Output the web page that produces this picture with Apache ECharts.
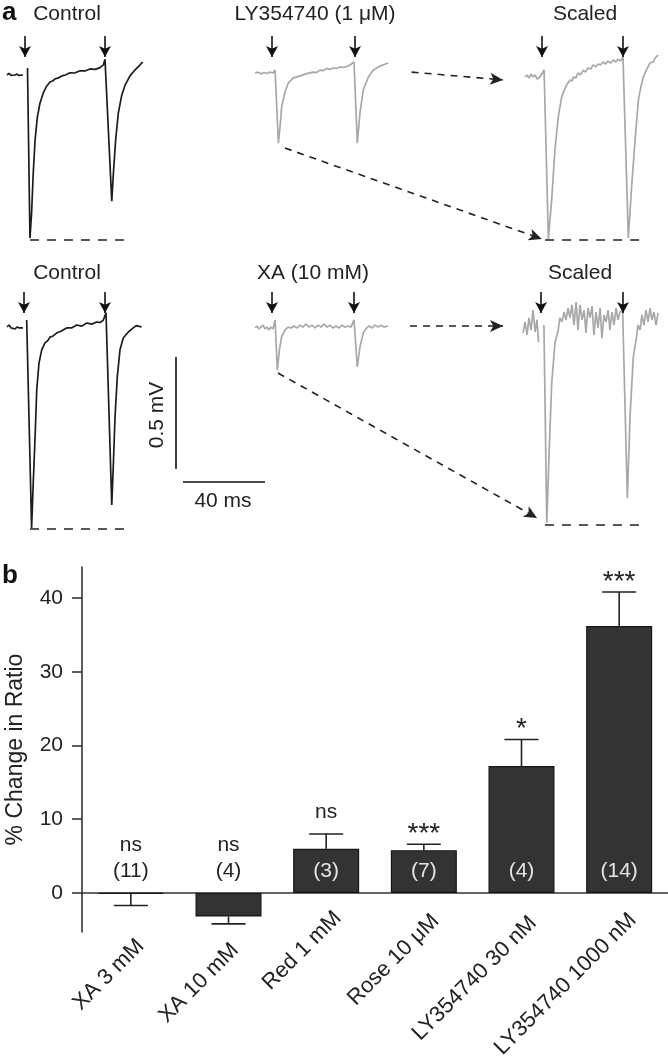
<!DOCTYPE html>
<html><head><meta charset="utf-8">
<script src="https://cdn.jsdelivr.net/npm/echarts@6/dist/echarts.min.js"></script>
<style>html,body{margin:0;padding:0;background:#fff}#c{width:668px;height:1058px}</style>
</head><body><div id="c"></div>
<script>
const FONT = 'Liberation Sans, Arial, Helvetica, sans-serif';

// ---------- Panel a: traces, [time ms, voltage mV] relative to trace start / baseline ----------
const ctrl1 = [
[0,0],[1.0,0.007],[2.0,-0.002],[2.9,0.004],[3.9,0],[4.9,0.004],[5.9,-0.002],[6.8,0.002],[7.8,0],
'-',
[10.0,0.031],[11.2,-0.728],[12.0,-0.616],[12.8,-0.438],[13.7,-0.290],[14.8,-0.188],[16.1,-0.125],[17.7,-0.080],[19.4,-0.049],[21.0,-0.031],[22.2,-0.027],[23.4,-0.018],[25.0,-0.013],[26.7,-0.004],[28.5,0.000],[30.7,0.010],[33.0,0.009],[35.6,0.019],[38.0,0.018],[40.5,0.027],[43.0,0.025],[45.4,0.033],[47.0,0.045],[47.8,0.070],
[51.1,-0.563],[51.9,-0.438],[53.0,-0.290],[54.3,-0.170],[56.0,-0.089],[57.6,-0.045],[60.0,-0.004],[62.4,0.022],[64.9,0.045],[66.2,0.058]
];
const ly1 = [
[0,0],[1.5,0.004],[2.9,-0.004],[4.4,0.002],[5.9,-0.002],[7.3,0.004],[8.8,0],
[9.8,0.013],[11.4,-0.313],[12.2,-0.241],[13.0,-0.152],[14.6,-0.085],[16.2,-0.045],[18.7,-0.022],[22.0,-0.013],[24.9,-0.004],[28.4,0.004],[30.0,0.002],[31.7,0.013],[33.3,0.011],[35.0,0.020],[36.5,0.016],[38.0,0.022],[39.8,0.020],[41.5,0.027],[43.0,0.025],[43.9,0.031],[45.0,0.029],[46.3,0.036],[48.3,0.049],
[49.9,-0.313],[51.2,-0.179],[52.8,-0.076],[55.3,-0.018],[57.7,0.013],[61.0,0.031],[65.0,0.045]
];
const scaled1 = [
[0,0],[1.0,0.009],[2.0,-0.004],[2.9,0.013],[3.9,0],[4.9,0.009],[5.9,-0.009],[7.3,0],
[9.3,0.031],[11.4,-0.723],[13.0,-0.549],[14.6,-0.326],[16.2,-0.179],[17.9,-0.089],[19.0,-0.062],[20.3,-0.036],[22.0,-0.013],[23.0,-0.018],[23.6,0],[24.8,-0.004],[25.9,0.018],[27.0,0.009],[28.4,0.031],[29.5,0.022],[30.7,0.040],[32.0,0.036],[33.3,0.054],[34.5,0.045],[35.6,0.058],[36.8,0.054],[38.2,0.067],[39.3,0.058],[40.5,0.071],[41.8,0.062],[43.1,0.076],[44.3,0.067],[45.4,0.080],[46.6,0.071],[47.8,0.089],
[50.4,-0.719],[52.0,-0.491],[53.7,-0.281],[55.3,-0.103],[56.5,-0.045],[57.7,0],[59.2,0.031],[61.0,0.063],[62.5,0.067],[63.5,0.085],[65.0,0.098]
];
const ctrl2 = [
[0,0],[1,0.009],[2,-0.004],[2.9,0.004],[3.9,-0.009],[4.9,0],[5.9,-0.004],[6.8,0],[7.8,-0.004],
'-',
[9.6,0.031],[12.0,-0.897],[12.8,-0.696],[13.7,-0.491],[14.5,-0.281],[15.6,-0.161],[16.9,-0.103],[18.5,-0.071],[19.8,-0.062],[21.0,-0.045],[22.5,-0.040],[24.2,-0.027],[26.5,-0.018],[29.1,-0.004],[31.5,-0.004],[34.0,0.009],[36.5,0.004],[38.9,0.018],[41.3,0.013],[43.8,0.022],[45.5,0.020],[47.0,0.031],[48.3,0.063],
[51.1,-0.795],[51.9,-0.607],[52.7,-0.402],[53.8,-0.223],[55.1,-0.103],[56.7,-0.049],[59.2,-0.022],[61.6,-0.004],[63.0,0.006],[64.0,0.004],[65.7,0]
];
const xa2 = [
[0,0],[1,0.009],[2,-0.004],[2.9,0.004],[3.9,0.013],[4.9,-0.004],[5.9,0.004],[6.8,-0.009],[7.8,0.004],[8.8,-0.004],
[9.8,0.036],[10.9,-0.188],[11.9,-0.098],[13.0,-0.040],[14.6,-0.009],[16.1,0.004],[17.6,0],[19.0,0.009],[20.5,0],[22.0,0.013],[23.4,0.004],[24.9,0.018],[26.3,0.004],[27.8,0.013],[29.3,0],[30.7,0.013],[32.2,0.004],[33.7,0.018],[35.1,0.004],[36.6,0.013],[38.0,0],[39.5,0.009],[41.0,0],[42.4,0.013],[43.9,0.004],[45.4,0.009],[46.8,0.004],
[48.3,0.036],[49.9,-0.174],[51.2,-0.085],[52.8,-0.022],[54.1,-0.004],[55.6,0.009],[57.1,0],[58.5,0.013],[60.0,0.004],[61.5,0.013],[62.9,0.004],[64.9,0.009]
];
const scaled2 = [
[0,-0.013],[1.0,0.036],[2.0,-0.022],[2.9,0.054],[3.9,0],[4.9,0.089],[5.9,-0.009],[6.8,0.045],[7.6,-0.054],
'-',
[10.2,0.022],[11.6,-0.862],[12.8,-0.536],[14.0,-0.237],[15.6,-0.058],[17.2,0],[18.0,0.054],[19.0,0.036],[20.0,0.080],[21.0,0.045],[22.0,0.098],[22.9,0.054],[23.9,0.112],[24.9,0.022],[25.9,0.125],[26.8,0],[27.8,0.112],[28.8,0.045],[29.8,0.089],[30.7,-0.013],[31.7,0.098],[32.7,0.054],[33.7,0.107],[34.6,-0.022],[35.6,0.080],[36.6,0.009],[37.6,0.098],[38.5,-0.036],[39.5,0.067],[40.5,0.036],[41.5,0.089],[42.4,0],[43.4,0.080],[44.4,0.022],[45.4,0.098],[46.3,0.045],[47.3,0.080],
[48.6,0.089],[50.9,-0.750],[52.2,-0.388],[53.8,-0.121],[55.4,-0.031],[56.1,0.022],[57.1,0],[58.0,0.067],[59.0,0.022],[60.0,0.089],[61.0,0.036],[62.0,0.098],[62.9,0.045],[63.9,0.080],[64.9,0.022],[65.9,0.076]
];
const traceTitles = ['Control', 'LY354740 (1 \u03bcM)', 'Scaled', 'Control', 'XA (10 mM)', 'Scaled'];
const scaleBarMv = 0.5;
const scaleBarMs = 40;

// ---------- Panel b: bar chart ----------
const categories = ['XA 3 mM', 'XA 10 mM', 'Red 1 mM', 'Rose 10 \u03bcM', 'LY354740 30 nM', 'LY354740 1000 nM'];
const means = [-0.15, -3.2, 6.0, 5.8, 17.2, 36.2];
const sems = [1.55, 1.0, 2.0, 0.8, 3.6, 4.6];
const nLabels = ['(11)', '(4)', '(3)', '(7)', '(4)', '(14)'];
const sigLabels = ['ns', 'ns', 'ns', '***', '*', '***'];
const yTicks = [0, 10, 20, 30, 40];

// ---------- layout ----------
const PX_MS = 2.05, PX_MV = 224, T_MAX = 150;
const traces = [ctrl1, ly1, scaled1, ctrl2, xa2, scaled2];
const origins = [[7,75],[255,73],[525,77],[7,327],[255,328],[523,330]];
const colors = ['#1c1c1c','#a8a8a8','#a8a8a8','#1c1c1c','#a8a8a8','#a8a8a8'];
const stimArrows = [
  {t:[8.8,47.8], v:[0.174,0.080]}, {t:[8.3,48.8], v:[0.165,0.071]}, {t:[8.3,47.8], v:[0.183,0.089]},
  {t:[8.3,47.8], v:[0.156,0.063]}, {t:[8.3,48.3], v:[0.161,0.067]}, {t:[8.8,48.8], v:[0.170,0.076]}
];
const troughLines = {0:[11.2,57.6,-0.737], 2:[9.8,58.5,-0.728], 3:[11.2,59.0,-0.902], 5:[10.7,59.5,-0.871]};
const linkArrows = {
  1: [[[76.4,0.004],[121.0,-0.031]], [[14.6,-0.335],[139.9,-0.741]]],
  4: [[[75.6,0.009],[121.0,0.009]], [[11.2,-0.201],[137.6,-0.848]]]
};
// pixel offset of each rotated category label's top-right corner from (category centre, zero line)
const xLabelOffsets = [[2,42],[-1,46],[4,14],[4,17],[4,19],[6,16]];

const grids = [], xAxes = [], yAxes = [], series = [];
traces.forEach((tr, i) => {
  const [x0, y0] = origins[i];
  grids.push({left: x0, top: y0 - 0.2 * PX_MV, width: T_MAX * PX_MS, height: 1.2 * PX_MV, outerBoundsMode:'none', containLabel:false});
  xAxes.push({type:'value', gridIndex:i, min:0, max:T_MAX, show:false});
  yAxes.push({type:'value', gridIndex:i, min:-1, max:0.2, show:false});
  const ml = [];
  const sa = stimArrows[i];
  sa.t.forEach(t => ml.push([
    {coord:[t, sa.v[0]], symbol:'none', lineStyle:{color:'#111', width:1.6, type:'solid'}},
    {coord:[t, sa.v[1]], symbol:'arrow', symbolSize:[9,11], lineStyle:{color:'#111', width:1.6, type:'solid'}}
  ]));
  if (troughLines[i]) {
    const [a, b, v] = troughLines[i];
    ml.push([
      {coord:[a, v], symbol:'none', lineStyle:{color:'#222', width:1.6, type:[9,8]}},
      {coord:[b, v], symbol:'none', lineStyle:{color:'#222', width:1.6, type:[9,8]}}
    ]);
  }
  if (linkArrows[i]) {
    linkArrows[i].forEach(seg => ml.push([
      {coord:seg[0], symbol:'none', lineStyle:{color:'#222', width:1.6, type:[7,6]}},
      {coord:seg[1], symbol:'arrow', symbolSize:[9,13], lineStyle:{color:'#222', width:1.6, type:[7,6]}}
    ]));
  }
  series.push({
    type:'line', xAxisIndex:i, yAxisIndex:i, data: tr, showSymbol:false, symbol:'none',
    clip:false, connectNulls:false, silent:true,
    lineStyle:{color: colors[i], width:1.7}, itemStyle:{color: colors[i]},
    markLine:{silent:true, symbol:['none','none'], label:{show:false}, data: ml, animation:false}
  });
});

// scale bar grid (index 6): origin at bottom of vertical bar
grids.push({left:176, top:469 - 0.6 * PX_MV, width: 50 * PX_MS, height: 0.7 * PX_MV, outerBoundsMode:'none', containLabel:false});
xAxes.push({type:'value', gridIndex:6, min:0, max:50, show:false});
yAxes.push({type:'value', gridIndex:6, min:-0.1, max:0.6, show:false});
const hBarGapMs = 3.4, hBarOffsetMv = -0.058;
series.push({type:'line', xAxisIndex:6, yAxisIndex:6, data:[[0,0],[0,scaleBarMv]], showSymbol:false, clip:false, silent:true, lineStyle:{color:'#111', width:1.6}});
series.push({type:'line', xAxisIndex:6, yAxisIndex:6, data:[[hBarGapMs,hBarOffsetMv],[hBarGapMs+scaleBarMs,hBarOffsetMv]], showSymbol:false, clip:false, silent:true, lineStyle:{color:'#111', width:1.6}});

// bar chart grid (index 7)
grids.push({left:82, right:0, top:567, height:365, outerBoundsMode:'none', containLabel:false});
xAxes.push({
  type:'category', gridIndex:7, data: categories,
  axisLine:{onZero:true, lineStyle:{color:'#333', width:1.6}},
  axisTick:{show:false},
  axisLabel:{show:false}
});
yAxes.push({
  type:'value', gridIndex:7, min:-5.3, max:44.2,
  axisLine:{show:true, lineStyle:{color:'#333', width:1.6}},
  axisTick:{show:true, length:10, lineStyle:{color:'#333', width:1.6}, customValues: yTicks},
  axisLabel:{customValues: yTicks, fontSize:21, color:'#222', margin:19, fontFamily:FONT},
  splitLine:{show:false},
  name:'% Change in Ratio', nameLocation:'middle', nameGap:55,
  nameTextStyle:{fontSize:23, color:'#222', fontFamily:FONT}
});
series.push({
  type:'bar', xAxisIndex:7, yAxisIndex:7, data: means, barWidth:66, silent:true,
  itemStyle:{color:'#333333', borderColor:'#151515', borderWidth:1.2}
});
series.push({
  type:'custom', xAxisIndex:7, yAxisIndex:7, silent:true, clip:false, z:5,
  data: means.map((m, i) => [i, m, sems[i]]),
  renderItem(params, api) {
    const i = api.value(0), m = api.value(1), e = api.value(2);
    const p0 = api.coord([i, m]);
    const p1 = api.coord([i, m < 0 ? m - e : m + e]);
    const style = {stroke:'#222', lineWidth:1.6};
    return {type:'group', children:[
      {type:'line', shape:{x1:p0[0], y1:p0[1], x2:p1[0], y2:p1[1]}, style},
      {type:'line', shape:{x1:p1[0]-17, y1:p1[1], x2:p1[0]+17, y2:p1[1]}, style}
    ]};
  }
});
series.push({
  type:'custom', xAxisIndex:7, yAxisIndex:7, silent:true, clip:false, z:6,
  data: means.map((m, i) => [i, m, sems[i]]),
  renderItem(params, api) {
    const idx = params.dataIndex;
    const i = api.value(0), m = api.value(1), e = api.value(2);
    const zero = api.coord([i, 0]);
    const neg = m <= 0;
    const top = neg ? zero : api.coord([i, m + e]);
    const sig = sigLabels[idx];
    const star = sig.indexOf('*') >= 0;
    const sigY = neg ? zero[1] - 48 : top[1] - (star ? 10 : 22);
    const off = xLabelOffsets[idx];
    return {type:'group', children:[
      {type:'text', x: zero[0], y: sigY, style:{text: sig, fontSize: star ? 28 : 21, fontFamily: FONT, fill:'#222', align:'center', verticalAlign:'middle'}},
      {type:'text', x: zero[0], y: zero[1] - 22, style:{text: nLabels[idx], fontSize:21, fontFamily: FONT, fill: neg ? '#222' : '#e6e6e6', align:'center', verticalAlign:'middle'}},
      {type:'text', x: zero[0] + off[0], y: zero[1] + off[1], rotation: Math.PI / 4, style:{text: categories[idx], fontSize:22, fontFamily: FONT, fill:'#222', align:'right', verticalAlign:'top'}}
    ]};
  }
});

// texts
const titlePos = [[67,14],[315,14],[585,14],[67,273],[313,273],[580,273]];
const graphic = titlePos.map((p, i) => ({
  type:'text', x:p[0], y:p[1], silent:true,
  style:{text: traceTitles[i], fontSize:21, fontFamily:FONT, fill:'#222', align:'center', verticalAlign:'middle'}
}));
graphic.push({type:'text', x:2, y:13, silent:true, style:{text:'a', fontSize:26, fontWeight:'bold', fontFamily:FONT, fill:'#111', align:'left', verticalAlign:'middle'}});
graphic.push({type:'text', x:2, y:576, silent:true, style:{text:'b', fontSize:26, fontWeight:'bold', fontFamily:FONT, fill:'#111', align:'left', verticalAlign:'middle'}});
graphic.push({type:'text', x:157, y:415, rotation:Math.PI/2, silent:true, style:{text: scaleBarMv + ' mV', fontSize:21, fontFamily:FONT, fill:'#222', align:'center', verticalAlign:'middle'}});
graphic.push({type:'text', x:223, y:501, silent:true, style:{text: scaleBarMs + ' ms', fontSize:21, fontFamily:FONT, fill:'#222', align:'center', verticalAlign:'middle'}});

const chart = echarts.init(document.getElementById('c'), null, {renderer:'canvas'});
chart.setOption({
  animation:false, backgroundColor:'#ffffff',
  grid: grids, xAxis: xAxes, yAxis: yAxes, series, graphic
});
</script></body></html>
